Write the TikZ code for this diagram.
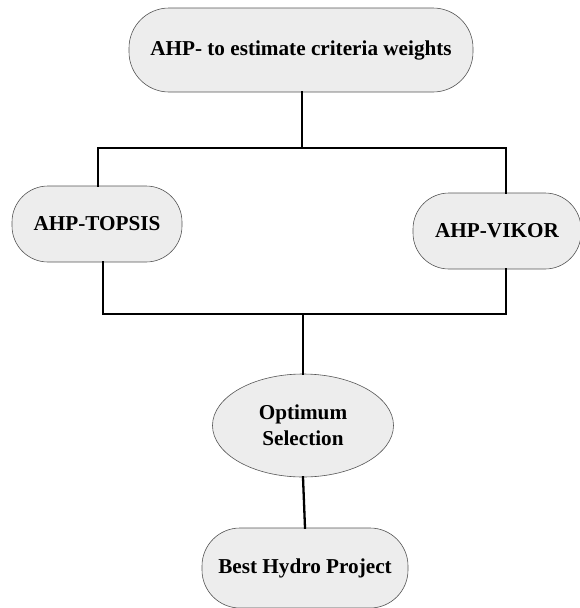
\documentclass[tikz,border=0pt]{standalone}
\usepackage{fontspec}
\setmainfont{Liberation Serif}
\usetikzlibrary{shapes.geometric}
\definecolor{boxfill}{HTML}{EDEDED}
\definecolor{boxline}{HTML}{555555}
\tikzset{
  pill/.style={draw=boxline, line width=0.6pt, fill=boxfill, rectangle, rounded corners=38pt,
    inner sep=0pt, align=center, font=\bfseries\fontsize{21.2}{25}\selectfont},
  oval/.style={draw=boxline, line width=0.6pt, fill=boxfill, ellipse,
    inner sep=0pt, align=center, font=\bfseries\fontsize{21.2}{26}\selectfont},
  conn/.style={line width=2.3pt, black, line cap=rect}
}
\begin{document}
\begin{tikzpicture}[x=1pt, y=-1pt]
\useasboundingbox (0,0) rectangle (579,608);
\node[pill, minimum width=344pt, minimum height=84pt, rounded corners=40pt] (top) at (301,50) {AHP- to estimate criteria weights};
\node[pill, minimum width=170pt, minimum height=76pt, rounded corners=36pt] (topsis) at (97,224) {AHP-TOPSIS};
\node[pill, minimum width=168pt, minimum height=76pt, rounded corners=36pt] (vikor) at (497,231) {AHP-VIKOR};
\node[oval, minimum width=181pt, minimum height=103pt] (opt) at (303,425.5) {Optimum\\Selection};
\node[pill, minimum width=206pt, minimum height=80pt, rounded corners=38pt] (best) at (305,568) {Best Hydro Project};
\coordinate (jt) at (302,148);
\coordinate (jl) at (98,148);
\coordinate (jr) at (506,148);
\coordinate (bl) at (103,314);
\coordinate (bm) at (303,314);
\coordinate (br) at (506,314);
\draw[conn] (top.south -| jt) -- (jt);
\draw[conn] (topsis.north -| jl) -- (jl) -- (jr) -- (vikor.north -| jr);
\draw[conn] (topsis.south -| bl) -- (bl) -- (br) -- (vikor.south -| br);
\draw[conn] (bm) -- (opt.north);
\draw[conn] (opt.south) -- (best.north);
\end{tikzpicture}
\end{document}
